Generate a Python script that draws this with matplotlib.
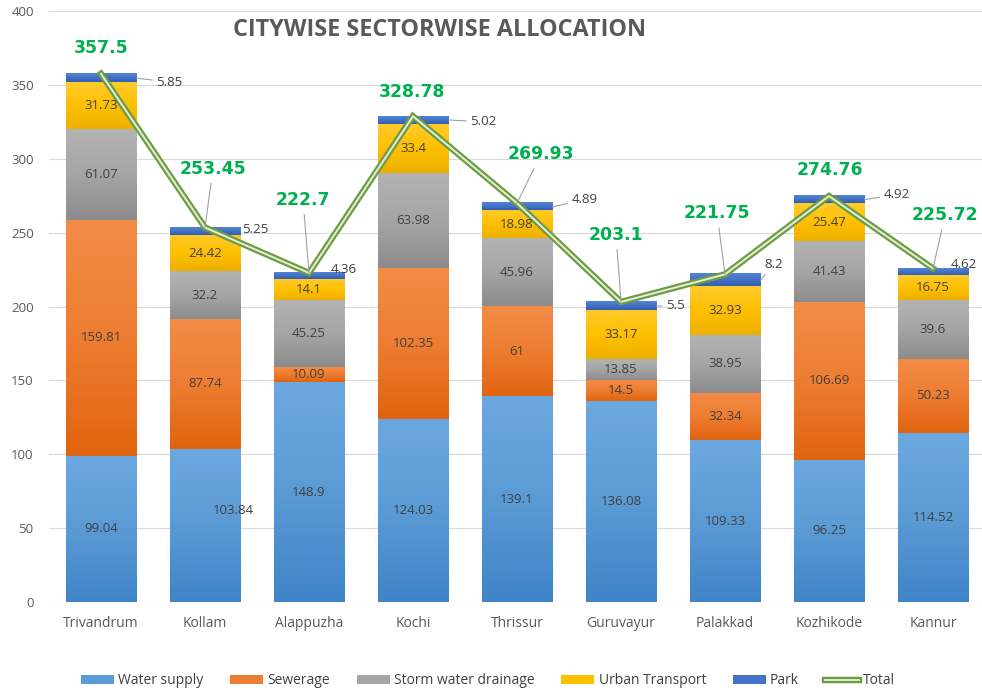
import matplotlib
matplotlib.use('Agg')
import matplotlib.pyplot as plt
import numpy as np
from matplotlib.colors import LinearSegmentedColormap
from matplotlib.patches import Patch
from matplotlib.lines import Line2D

# ---------------- data ----------------
cities = ['Trivandrum', 'Kollam', 'Alappuzha', 'Kochi', 'Thrissur',
          'Guruvayur', 'Palakkad', 'Kozhikode', 'Kannur']
water_supply = [99.04, 103.84, 148.9, 124.03, 139.1, 136.08, 109.33, 96.25, 114.52]
sewerage = [159.81, 87.74, 10.09, 102.35, 61, 14.5, 32.34, 106.69, 50.23]
storm_water = [61.07, 32.2, 45.25, 63.98, 45.96, 13.85, 38.95, 41.43, 39.6]
urban_transport = [31.73, 24.42, 14.1, 33.4, 18.98, 33.17, 32.93, 25.47, 16.75]
park = [5.85, 5.25, 4.36, 5.02, 4.89, 5.5, 8.2, 4.92, 4.62]
total = [357.5, 253.45, 222.7, 328.78, 269.93, 203.1, 221.75, 274.76, 225.72]
series_names = ['Water supply', 'Sewerage', 'Storm water drainage', 'Urban Transport', 'Park']
y_ticks = [0, 50, 100, 150, 200, 250, 300, 350, 400]
title = 'CITYWISE SECTORWISE ALLOCATION'

# ---------------- style / layout ----------------
grad = {  # (top, middle, bottom)
    'Water supply': ('#6CA8E0', '#5B9BD5', '#3F84C7'),
    'Sewerage': ('#F38C48', '#ED7D31', '#E0640F'),
    'Storm water drainage': ('#B3B3B3', '#A5A5A5', '#8C8C8C'),
    'Urban Transport': ('#FFCB2E', '#FFC000', '#EDB000'),
    'Park': ('#5384D4', '#4472C4', '#2E5EB3'),
}
# label offsets (pixels) for inner labels that are moved
inner_offsets = {('Water supply', 1): (28, 15)}
# park label offsets (pixels from bar right edge / park mid), leader flag
park_offsets = [(20, -4, True), (2, 2, False), (-14, 7, False), (22, -2, True),
                (19, 7, True), (10, 0, True), (4, 16, True), (19, 5, True), (-18, 7, False)]
# total label offsets (pixels from line point), leader flag
total_offsets = [(0, 26, False), (8, 59, True), (-6, 73, True), (-1, 24, False),
                 (24, 49, True), (-5, 67, True), (-8, 61, True), (1, 26, False), (12, 53, True)]

W, H = 982, 694
fig = plt.figure(figsize=(W / 100, H / 100), dpi=100)
ax = fig.add_axes([49 / W, 92 / H, 936 / W, 591 / H])

label_font = 'Open Sans'
x = np.arange(len(cities))
bar_w = 0.68
series_vals = [water_supply, sewerage, storm_water, urban_transport, park]

bottoms = np.zeros(len(cities))
park_rects = None
for name, vals in zip(series_names, series_vals):
    vals = np.array(vals, dtype=float)
    top_c, mid_c, bot_c = grad[name]
    rects = ax.bar(x, vals, bar_w, bottom=bottoms, color=mid_c, zorder=2, linewidth=0)
    cmap = LinearSegmentedColormap.from_list(name, [top_c, mid_c, bot_c])
    g = np.linspace(0, 1, 128).reshape(-1, 1)
    for i, r in enumerate(rects):
        x0, y0 = r.get_x(), r.get_y()
        ax.imshow(g, cmap=cmap, extent=(x0, x0 + r.get_width(), y0, y0 + r.get_height()),
                  origin='upper', aspect='auto', interpolation='bilinear', zorder=2.1)
        if name != 'Park':
            dx, dy = inner_offsets.get((name, i), (0, 0))
            ax.annotate(f'{vals[i]:g}', xy=(x[i], y0 + vals[i] / 2), xytext=(dx, dy),
                        textcoords='offset pixels', ha='center', va='center',
                        fontsize=9.5, color='#404040', family=label_font, zorder=7)
    if name == 'Park':
        park_rects = rects
    bottoms = bottoms + vals

# park labels
for i, r in enumerate(park_rects):
    dx, dy, lead = park_offsets[i]
    xy = (r.get_x() + r.get_width(), r.get_y() + r.get_height() / 2)
    kw = {}
    if lead:
        kw['arrowprops'] = dict(arrowstyle='-', color='#A0A0A0', lw=0.8, shrinkA=1, shrinkB=0)
    ax.annotate(f'{park[i]:g}', xy=xy, xytext=(dx, dy), textcoords='offset pixels',
                ha='left', va='center', fontsize=9.5, color='#404040', family=label_font,
                zorder=7, **kw)

# total line (double line)
ax.plot(x, total, color='#6E9C44', lw=4.6, zorder=5, solid_joinstyle='miter')
ax.plot(x, total, color='#E4EED8', lw=1.4, zorder=6, solid_joinstyle='miter')

for i, t in enumerate(total):
    dx, dy, lead = total_offsets[i]
    kw = {}
    if lead:
        kw['arrowprops'] = dict(arrowstyle='-', color='#A0A0A0', lw=0.8, shrinkA=2, shrinkB=0)
    ax.annotate(f'{t:g}', xy=(x[i], t), xytext=(dx, dy), textcoords='offset pixels',
                ha='center', va='center', fontsize=12.4, fontweight='bold',
                color='#00B050', family='DejaVu Sans', zorder=8, **kw)

# axes
ax.set_xlim(-0.5, len(cities) - 0.5)
ax.set_ylim(0, 400)
ax.set_yticks(y_ticks)
ax.set_xticks(x)
ax.set_xticklabels(cities)
for s in ax.spines.values():
    s.set_visible(False)
ax.grid(axis='y', color='#D9D9D9', lw=0.8, zorder=0)
ax.set_axisbelow(True)
ax.tick_params(axis='both', length=0, colors='#595959')
ax.tick_params(axis='y', pad=11, labelsize=9.5)
ax.tick_params(axis='x', pad=10, labelsize=10)
for lbl in ax.get_xticklabels() + ax.get_yticklabels():
    lbl.set_family(label_font)

fig.text(440 / W, 1 - 30 / H, title, ha='center', va='center', fontsize=16.8,
         fontweight='bold', color='#595959', family='Open Sans')

handles = [Patch(facecolor=grad[n][1], edgecolor='none') for n in series_names]
handles.append((Line2D([], [], color='#6E9C44', lw=4.6), Line2D([], [], color='#E4EED8', lw=1.4)))
fig.legend(handles, series_names + ['Total'], loc='center', bbox_to_anchor=(488 / W, 1 - 681 / H),
           ncol=6, frameon=False, prop={'family': label_font, 'size': 10},
           handlelength=2.4, handleheight=0.6, handletextpad=0.3, columnspacing=1.9,
           labelcolor='#404040')

fig.savefig('out.png', dpi=100)
